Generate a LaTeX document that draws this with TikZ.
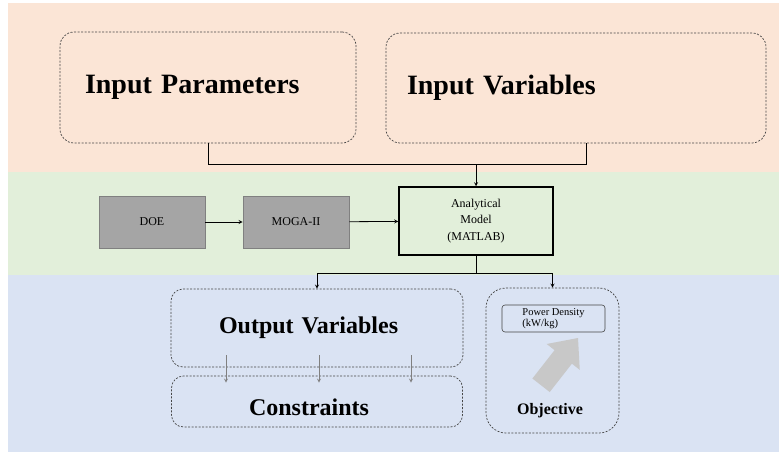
\documentclass[tikz,border=0pt]{standalone}
\usepackage{fontspec}
\setmainfont{Liberation Serif}
\definecolor{bandpink}{RGB}{251,229,214}
\definecolor{bandgreen}{RGB}{226,239,218}
\definecolor{bandblue}{RGB}{218,227,243}
\definecolor{boxgray}{RGB}{165,165,165}
\definecolor{edgegray}{RGB}{128,128,128}
\definecolor{dashgray}{RGB}{70,70,70}
\definecolor{arrowgray}{RGB}{200,200,200}
\begin{document}
\begin{tikzpicture}[>=stealth, x=1pt, y=-1pt, line width=0.8pt,
        dbox/.style={draw=dashgray, line width=0.7pt, dash pattern=on 2pt off 1.5pt, rounded corners=14pt},
        gbox/.style={draw=edgegray, fill=boxgray, minimum width=106pt, minimum height=52pt, font=\fontsize{12}{14}\selectfont},
        bigtxt/.style={font=\fontsize{28}{32}\selectfont\bfseries, align=left},
        midtxt/.style={font=\fontsize{24}{28}\selectfont\bfseries, align=left}]
        \useasboundingbox (0,0) rectangle (779,452);
        % bands
        \fill[bandpink] (8,3) rectangle (779,172);
        \fill[bandgreen] (8,172) rectangle (779,275);
        \fill[bandblue] (8,275) rectangle (779,452);
        % inputs
        \node [dbox, bigtxt, minimum width=296pt, minimum height=111pt, inner xsep=25pt, text width=246pt] (inpar) at (208,87.5) {Input Parameters};
        \node [dbox, bigtxt, minimum width=380pt, minimum height=110pt, inner xsep=21pt, text width=338pt] (invar) at (576,88) {Input Variables};
        % optimisation loop
        \node [gbox] (doe) at (152,222) {DOE};
        \node [gbox] (moga) at (296,222) {MOGA-II};
        \node [draw, line width=1.5pt, minimum width=154pt, minimum height=68pt, align=center, font=\fontsize{12}{16.5}\selectfont] (model) at (476,221) {Analytical\\Model\\(MATLAB)};
        % outputs
        \node [dbox, midtxt, rounded corners=12pt, minimum width=292pt, minimum height=78pt, inner xsep=48pt, text width=196pt] (outv) at (317,328) {Output Variables};
        \node [dbox, midtxt, rounded corners=12pt, minimum width=291pt, minimum height=51pt, inner xsep=77.5pt, text width=136pt, text height=27pt, text depth=0pt] (cons) at (317,401.5) {Constraints};
        \node [dbox, rounded corners=20pt, minimum width=133pt, minimum height=145pt] (objbox) at (552.5,360.5) {};
        \node [draw=dashgray, line width=0.6pt, rounded corners=3pt, minimum width=103pt, minimum height=27pt, inner sep=1pt, align=left, font=\fontsize{10.5}{11}\selectfont] (pd) at (553.5,318.5) {Power Density\\(kW/kg)};
        \fill[arrowgray, shift={(578,338)}, rotate=52] (0,0) -- (-24,-21) -- (-24,-11) -- (-60,-11) -- (-60,11) -- (-24,11) -- (-24,21) -- cycle;
        \node [font=\fontsize{16}{18}\selectfont\bfseries] (obj) at (550,411) {Objective};
        % connectors
        \coordinate (jn) at (476,164);
        \coordinate (split) at (476,273);
        \draw (inpar.south) |- (jn);
        \draw ([xshift=10pt]invar.south) |- (jn);
        \draw [->] (jn) -- (model.north);
        \draw [->] (doe) -- (moga);
        \draw [->] (moga) -- (model);
        \draw (model.south) -- (split);
        \draw [->] (split) -| (outv.north);
        \draw [->] (split) -| (objbox.north);
        \foreach \dx in {-91,2,94}
        {
                \draw [->, edgegray] ([xshift=\dx pt, yshift=12pt]outv.south) -- ([xshift=\dx pt, yshift=-7pt]cons.north);
        }
\end{tikzpicture}
\end{document}
